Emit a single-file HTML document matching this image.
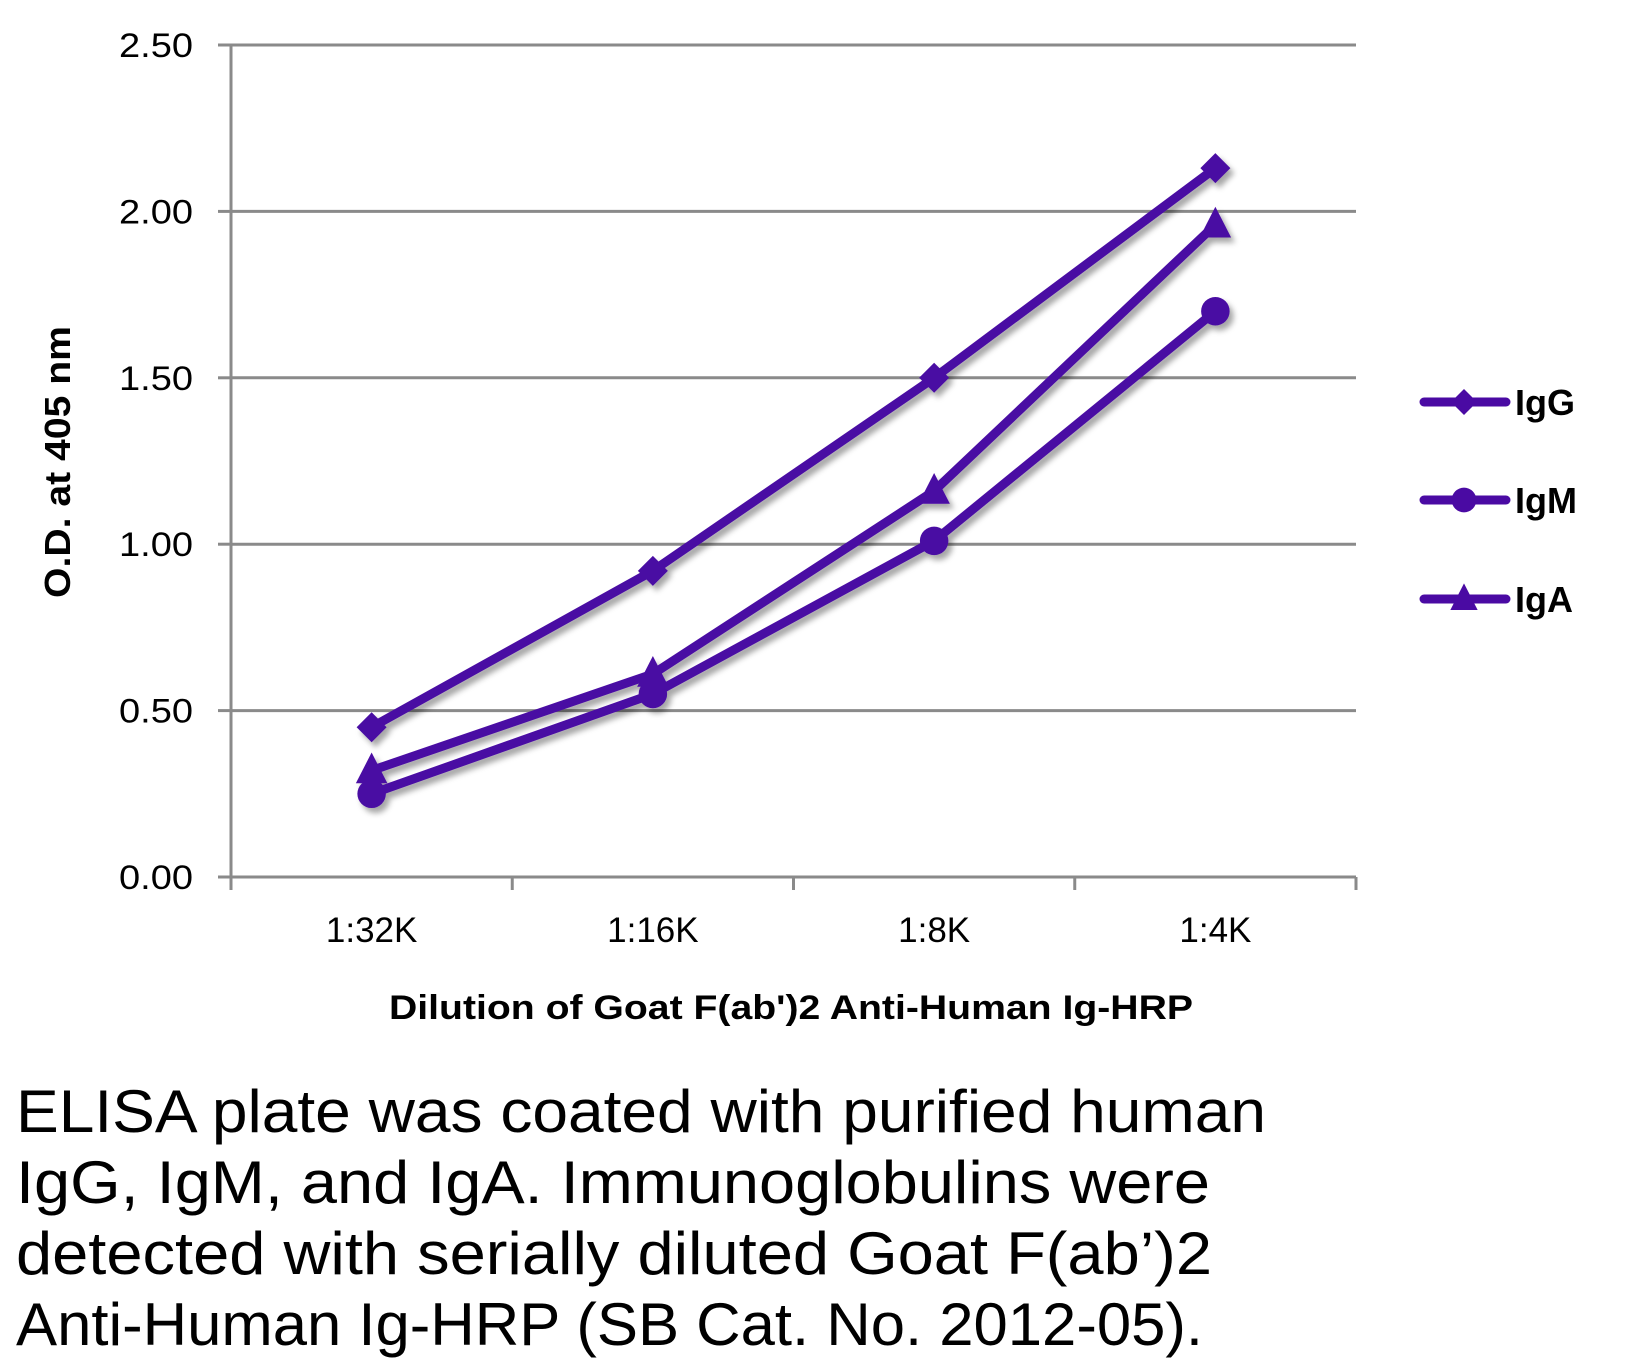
<!DOCTYPE html>
<html><head><meta charset="utf-8"><style>
html,body{margin:0;padding:0;background:#fff;}
svg{display:block;}
text{font-family:"Liberation Sans",sans-serif;}
</style></head><body>
<svg id="chart" width="1626" height="1371" viewBox="0 0 1626 1371">
<defs><filter id="sh" x="-20%" y="-20%" width="140%" height="140%"><feDropShadow dx="4" dy="5" stdDeviation="3" flood-color="#000" flood-opacity="0.35"/></filter></defs>
<g id="grid"></g>
<g id="axes"></g>
<g id="series" filter="url(#sh)"></g>
<g id="legend"></g>
<text transform="translate(70,462) rotate(-90)" text-anchor="middle" font-size="36" font-weight="bold" textLength="272" lengthAdjust="spacingAndGlyphs">O.D. at 405 nm</text>
<text x="389" y="1019" font-size="34" font-weight="bold" textLength="804" lengthAdjust="spacingAndGlyphs">Dilution of Goat F(ab')2 Anti-Human Ig-HRP</text>
<g font-size="60">
<text x="16" y="1132" textLength="1250" lengthAdjust="spacingAndGlyphs">ELISA plate was coated with purified human</text>
<text x="16" y="1203" textLength="1194" lengthAdjust="spacingAndGlyphs">IgG, IgM, and IgA.  Immunoglobulins were</text>
<text x="16" y="1274" textLength="1196" lengthAdjust="spacingAndGlyphs">detected with serially diluted Goat F(ab’)2</text>
<text x="16" y="1345" textLength="1187" lengthAdjust="spacingAndGlyphs">Anti-Human Ig-HRP (SB Cat. No. 2012-05).</text>
</g>
</svg>
<script>
const categories = ["1:32K","1:16K","1:8K","1:4K"];
const igG = [0.45, 0.92, 1.50, 2.13];
const igM = [0.25, 0.55, 1.01, 1.70];
const igA = [0.32, 0.61, 1.16, 1.96];
const yTicks = [0, 0.5, 1.0, 1.5, 2.0, 2.5];
const yTickLabels = ["0.00","0.50","1.00","1.50","2.00","2.50"];
const seriesNames = ["IgG","IgM","IgA"];

const NS="http://www.w3.org/2000/svg";
const L=231,R=1356,T=45,B=877,YMAX=2.5;
const step=(R-L)/categories.length;
const xS=i=>L+step*(i+0.5);
const yS=v=>B-(v/YMAX)*(B-T);
const C="#4a0aa3";
function mk(tag,attrs,parent){const e=document.createElementNS(NS,tag);for(const k in attrs)e.setAttribute(k,attrs[k]);parent.appendChild(e);return e;}
const grid=document.getElementById('grid'),axes=document.getElementById('axes'),ser=document.getElementById('series'),leg=document.getElementById('legend');
yTicks.forEach((v,i)=>{
  if(v>0){const g=mk('line',{x1:L,x2:R,y1:yS(v),y2:yS(v),stroke:'#8a8a8a','stroke-width':3},grid);
  
  }
  const tk=mk('line',{x1:L-13,x2:L,y1:yS(v),y2:yS(v),stroke:'#8a8a8a','stroke-width':3},axes);
  
  
  const t=mk('text',{x:193,y:yS(v)+12,'text-anchor':'end','font-size':34,textLength:74,lengthAdjust:'spacingAndGlyphs'},axes);
  t.textContent=yTickLabels[i];
  
  
});
const ya=mk('line',{x1:L,x2:L,y1:T,y2:B+13,stroke:'#8a8a8a','stroke-width':3},axes);


const xa=mk('line',{x1:L,x2:R,y1:B,y2:B,stroke:'#8a8a8a','stroke-width':3},axes);


for(let i=0;i<=categories.length;i++){
  const tk=mk('line',{x1:L+step*i,x2:L+step*i,y1:B,y2:B+13,stroke:'#8a8a8a','stroke-width':3},axes);
  
  
}
categories.forEach((c,i)=>{
  const t=mk('text',{x:xS(i),y:942,'text-anchor':'middle','font-size':35},axes);
  t.textContent=c;
  
  
});
function marker(type,x,y,parent,s){
  let e;
  if(type==='diamond') e=mk('polygon',{points:`${x},${y-s} ${x+s},${y} ${x},${y+s} ${x-s},${y}`,fill:C},parent);
  else if(type==='circle') e=mk('circle',{cx:x,cy:y,r:s*0.95,fill:C},parent);
  else e=mk('polygon',{points:`${x},${y-s*1.2} ${x+s*1.05},${y+s*0.85} ${x-s*1.05},${y+s*0.85}`,fill:C},parent);
  return e;
}
const data=[igG,igM,igA],types=['diamond','circle','triangle'];
data.forEach((vals,si)=>{
  const g=mk('g',{},ser);
  
  
  const pl=mk('polyline',{points:vals.map((v,i)=>xS(i)+','+yS(v)).join(' '),fill:'none',stroke:C,'stroke-width':9,'stroke-linejoin':'round'},g);
  
  
  vals.forEach((v,i)=>{
    const m=marker(types[si],xS(i),yS(v),g,15);
    
    
  });
  const ly=[402,500,599][si];
  const lg=mk('g',{},leg);
  
  
  mk('line',{x1:1424,x2:1506,y1:ly,y2:ly,stroke:C,'stroke-width':9,'stroke-linecap':'round'},lg);
  marker(types[si],1464,ly,lg,13);
  const t=mk('text',{x:1515,y:ly+13,'font-size':36,'font-weight':'bold'},lg);
  t.textContent=seriesNames[si];
  
  
});
</script>
</body></html>
